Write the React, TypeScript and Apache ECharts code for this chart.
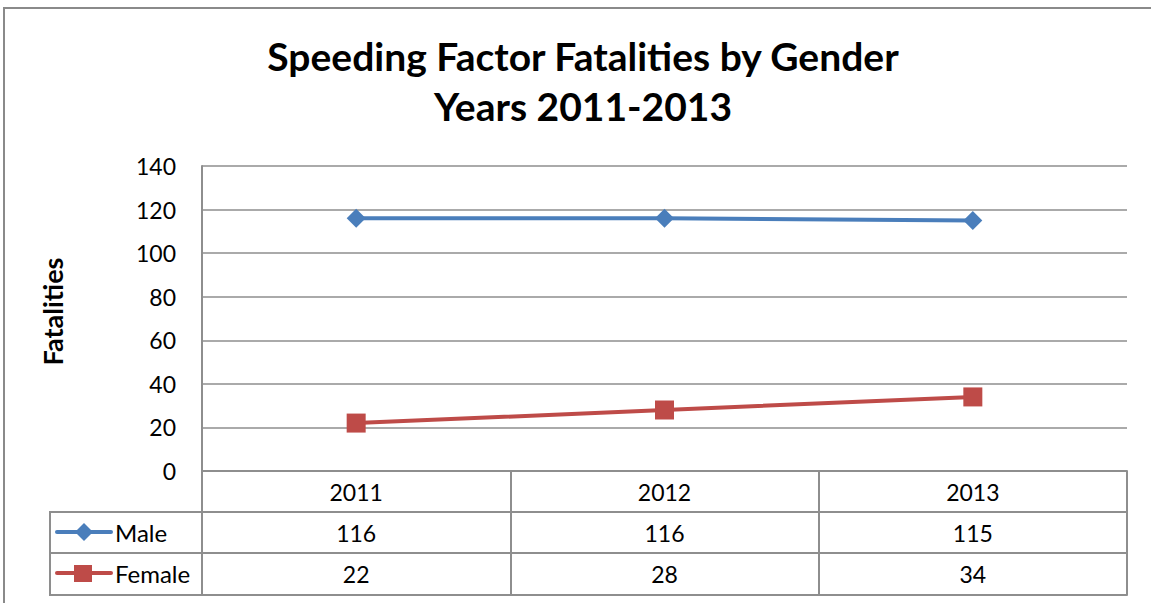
import React, { useEffect, useRef } from "react";
import * as echarts from "echarts";

const years = ["2011", "2012", "2013"];
const male = [116, 116, 115];
const female = [22, 28, 34];
const yTicks = { min: 0, max: 140, interval: 20 };

const FONT = "Lato, 'Open Sans', sans-serif";
const GRID_COLOR = "#8e8e8e";
const MALE_COLOR = "#4a7ebb";
const FEMALE_COLOR = "#be4b48";

export default function App() {
  const ref = useRef<HTMLDivElement>(null);

  useEffect(() => {
    if (!ref.current) return;
    const chart = echarts.init(ref.current, undefined, { renderer: "svg" });

    const tableAxis = (data: string[], offset: number, withTicks: boolean) => ({
      type: "category" as const,
      data,
      position: "bottom" as const,
      offset,
      boundaryGap: true,
      axisLine: { show: true, lineStyle: { color: GRID_COLOR, width: 2 } },
      axisTick: withTicks
        ? { show: true, inside: false, length: 124, lineStyle: { color: GRID_COLOR, width: 2 } }
        : { show: false },
      axisLabel: {
        show: data.length > 0,
        margin: 9,
        color: "#000",
        fontFamily: FONT,
        fontSize: 23,
        interval: 0,
      },
      splitLine: { show: false },
    });

    chart.setOption({
      animation: false,
      backgroundColor: "#fff",
      textStyle: { fontFamily: FONT },
      title: {
        text: "Speeding Factor Fatalities by Gender\nYears 2011-2013",
        left: 578,
        textAlign: "center",
        top: 26,
        textStyle: {
          fontFamily: FONT,
          fontWeight: "bold",
          fontSize: 39,
          lineHeight: 50,
          color: "#000",
        },
      },
      grid: { left: 202, right: 24, top: 166, bottom: 132 },
      xAxis: [
        tableAxis(years, 0, true),
        tableAxis(male.map(String), 41, false),
        tableAxis(female.map(String), 82, false),
        tableAxis([], 124, false),
      ],
      yAxis: {
        type: "value",
        min: yTicks.min,
        max: yTicks.max,
        interval: yTicks.interval,
        name: "Fatalities",
        nameLocation: "middle",
        nameRotate: 90,
        nameGap: 136,
        nameTextStyle: {
          fontFamily: FONT,
          fontWeight: "bold",
          fontSize: 27,
          color: "#000",
          padding: [0, 0, 0, 14],
        },
        axisLine: { show: true, lineStyle: { color: GRID_COLOR, width: 2 } },
        axisTick: { show: false },
        axisLabel: { margin: 26, color: "#000", fontFamily: FONT, fontSize: 23 },
        splitLine: { show: true, lineStyle: { color: GRID_COLOR, width: 1.5 } },
      },
      series: [
        {
          name: "Male",
          type: "line",
          xAxisIndex: 0,
          data: male,
          symbol: "diamond",
          symbolSize: 19,
          lineStyle: { color: MALE_COLOR, width: 4 },
          itemStyle: { color: MALE_COLOR },
        },
        {
          name: "Female",
          type: "line",
          xAxisIndex: 0,
          data: female,
          symbol: "rect",
          symbolSize: 19,
          lineStyle: { color: FEMALE_COLOR, width: 4 },
          itemStyle: { color: FEMALE_COLOR },
        },
      ],
      graphic: [
        // outer chart frame
        {
          type: "rect",
          shape: { x: 4, y: 8, width: 1200, height: 700 },
          style: { fill: "none", stroke: "#8a8a8a", lineWidth: 2 },
          silent: true,
        },
        // legend column of the data table
        {
          type: "polyline",
          shape: { points: [[202, 512], [50, 512], [50, 595], [202, 595]] },
          style: { fill: "none", stroke: GRID_COLOR, lineWidth: 2 },
          silent: true,
        },
        {
          type: "line",
          shape: { x1: 50, y1: 553, x2: 202, y2: 553 },
          style: { stroke: GRID_COLOR, lineWidth: 2 },
          silent: true,
        },
        // Male key
        {
          type: "line",
          shape: { x1: 57, y1: 532, x2: 111, y2: 532 },
          style: { stroke: MALE_COLOR, lineWidth: 4, lineCap: "round" },
          silent: true,
        },
        {
          type: "polygon",
          shape: { points: [[84, 523], [93, 532], [84, 541], [75, 532]] },
          style: { fill: MALE_COLOR },
          silent: true,
        },
        {
          type: "text",
          x: 115,
          y: 532,
          style: { text: "Male", fontFamily: FONT, fontSize: 24, fill: "#000", verticalAlign: "middle" },
          silent: true,
        },
        // Female key
        {
          type: "line",
          shape: { x1: 57, y1: 573, x2: 111, y2: 573 },
          style: { stroke: FEMALE_COLOR, lineWidth: 4, lineCap: "round" },
          silent: true,
        },
        {
          type: "rect",
          shape: { x: 74, y: 565, width: 18, height: 17 },
          style: { fill: FEMALE_COLOR },
          silent: true,
        },
        {
          type: "text",
          x: 115,
          y: 573,
          style: { text: "Female", fontFamily: FONT, fontSize: 24, fill: "#000", verticalAlign: "middle" },
          silent: true,
        },
      ],
    });

    return () => chart.dispose();
  }, []);

  return (
    <div
      ref={ref}
      style={{ position: "fixed", left: 0, top: 0, width: 1151, height: 603, background: "#fff" }}
    />
  );
}
